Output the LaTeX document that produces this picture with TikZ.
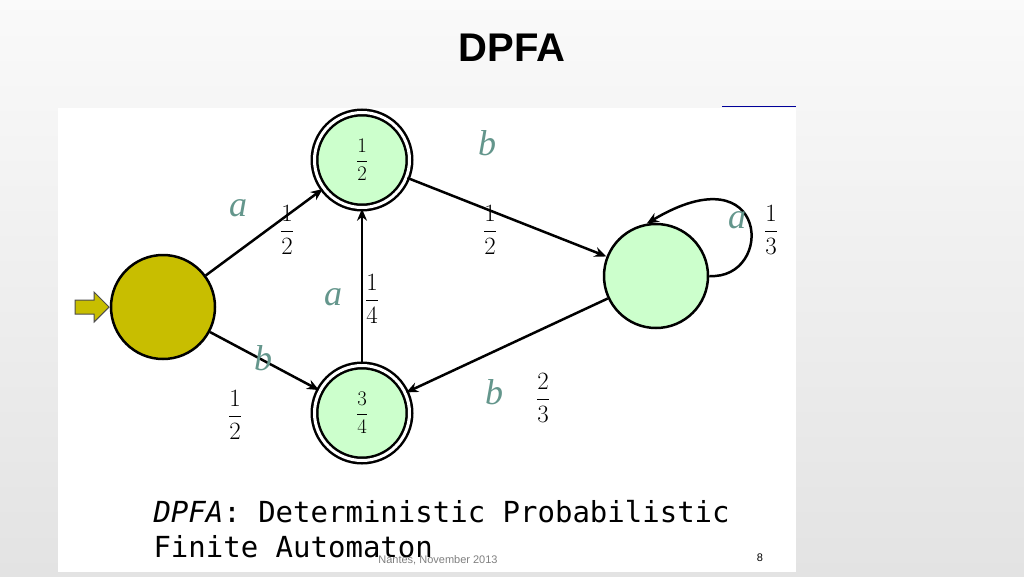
\documentclass[tikz,border=0pt]{standalone}
\usepackage{fontspec}
\setmainfont{Liberation Serif}
\setsansfont{Liberation Sans}
\setmonofont{DejaVu Sans Mono}
\usetikzlibrary{arrows.meta,shapes.arrows}
\definecolor{stategreen}{RGB}{204,255,204}
\definecolor{startolive}{RGB}{200,190,0}
\definecolor{symteal}{RGB}{100,150,140}
\newcommand{\pfrac}[2]{$\displaystyle\frac{#1}{#2}$}
\tikzset{
  state/.style={circle,draw,line width=2.5pt,fill=stategreen,minimum size=100pt,inner sep=0pt,font=\fontsize{20}{20}\selectfont},
  final/.style={state,double,double distance=3pt,minimum size=95pt},
  trans/.style={-{Stealth[length=12pt,width=10pt]},line width=2.5pt},
  sym/.style={text=symteal,font=\fontsize{36}{36}\selectfont\itshape},
  prob/.style={font=\fontsize{24}{24}\selectfont}
}
\begin{document}
\begin{tikzpicture}[x=1pt,y=-1pt]
\useasboundingbox (0,0) rectangle (1024,576);
\shade[top color=gray!4,bottom color=gray!22] (0,0) rectangle (1024,576);
\node[font=\sffamily\bfseries\fontsize{40}{40}\selectfont] (title) at (512,48) {DPFA};
\fill[white] (58,108) rectangle (796,572);
\draw[blue!60!black,line width=1pt] (722,106) -- (796,106);
% states
\node[state,fill=startolive,minimum size=104pt] (q0) at (163,307) {};
\node[final] (q1) at (362,160) {\pfrac{1}{2}};
\node[final] (q2) at (362,413) {\pfrac{3}{4}};
\node[state,minimum size=104pt] (q3) at (656,276) {};
\node[single arrow,draw=black!70,fill=startolive,line width=1pt,minimum height=34pt,minimum width=30pt,single arrow head extend=4pt,inner sep=3pt,anchor=tip] (in) at (q0.west) {};
% transitions
\draw[trans] (q0) -- (q1);
\draw[trans] (q0) -- (q2);
\draw[trans] (q1) -- (q3);
\draw[trans] (q3) -- (q2);
\draw[trans] (q2) -- (q1);
\draw[trans] (q3.east) .. controls (775,280) and (770,150) .. (q3.100);
% labels
\node[sym] (la1) at (238,208) {a};
\node[prob] (lp1) at (287,230) {\pfrac{1}{2}};
\node[sym] (lb1) at (263,358) {b};
\node[prob] (lp2) at (235,415) {\pfrac{1}{2}};
\node[sym] (lb2) at (487,143) {b};
\node[prob] (lp3) at (490,230) {\pfrac{1}{2}};
\node[sym] (la2) at (333,297) {a};
\node[prob] (lp4) at (372,299) {\pfrac{1}{4}};
\node[sym] (la3) at (737,220) {a};
\node[prob] (lp5) at (771,230) {\pfrac{1}{3}};
\node[sym] (lb3) at (494,392) {b};
\node[prob] (lp6) at (543,398) {\pfrac{2}{3}};
% caption
\node[font=\ttfamily\fontsize{29}{29}\selectfont,anchor=base west] (cap1) at (150,522) {\textit{DPFA}: Deterministic Probabilistic};
\node[font=\ttfamily\fontsize{29}{29}\selectfont,anchor=base west] (cap2) at (150,557) {Finite Automaton};
\node[font=\sffamily\fontsize{11}{11}\selectfont,text=gray] (foot) at (438,560) {Nantes, November 2013};
\node[font=\sffamily\fontsize{11}{11}\selectfont] (page) at (760,558) {8};
\end{tikzpicture}
\end{document}
